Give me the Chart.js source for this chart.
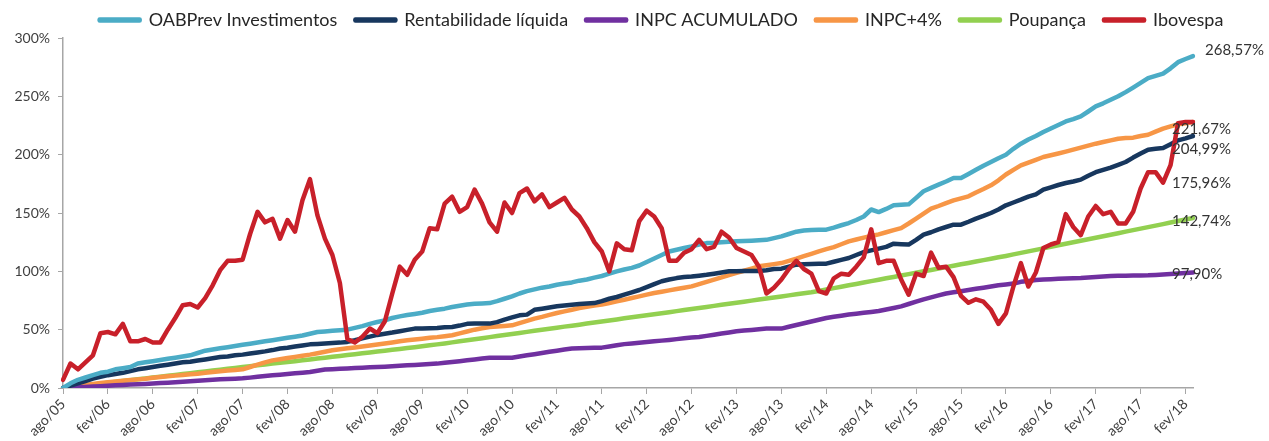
<!DOCTYPE html>
<html>
<head>
<meta charset="utf-8">
<script src="https://cdn.jsdelivr.net/npm/chart.js@4.4.1/dist/chart.umd.min.js"></script>
<style>
  html, body { margin: 0; padding: 0; background: #fff; }
  #wrap { width: 1269px; height: 441px; }
</style>
</head>
<body>
<div id="wrap"><canvas id="chart" width="1269" height="441"></canvas></div>
<script>
// meses de ago/05 a mar/18 (152 pontos)
const monthNames = ['jan', 'fev', 'mar', 'abr', 'mai', 'jun', 'jul', 'ago', 'set', 'out', 'nov', 'dez'];
const firstMonth = 7, firstYear = 5, nMonths = 152;

const seriesNames = ['OABPrev Investimentos', 'Rentabilidade líquida', 'INPC ACUMULADO', 'INPC+4%', 'Poupança', 'Ibovespa'];

// valores acumulados em %, uma linha = 12 meses (ago..jul)
const oabprev = [
  0, 4, 7, 9, 11, 13, 14, 16, 17, 18, 21, 22,
  23, 24, 25, 26, 27, 28, 30, 32, 33, 34, 35, 36,
  37, 38, 39, 40, 41, 42, 43, 44, 45, 46.5, 48, 48.5,
  49, 49.5, 50, 51.5, 53, 55, 56.6, 58, 60, 61.4, 62.5, 63.5,
  64.5, 66, 67, 68, 69.4, 70.5, 71.5, 72.3, 72.5, 72.8, 74.5, 76.5,
  78.6, 81, 83, 84.5, 86, 87, 88.5, 89.5, 90.5, 92, 93, 94.6,
  96, 98, 100, 101.6, 103, 105, 108, 111, 114, 117, 118.5, 120,
  121.4, 123, 124.2, 124.5, 125, 125.3, 125.7, 126, 126.3, 126.6, 127, 128.5,
  130, 132, 134, 135, 135.5, 135.6, 135.7, 137.5, 139.5, 141.4, 144, 147,
  153, 150.8, 153.5, 156.6, 157, 157.4, 163, 168.6, 171.5, 174.3, 177, 180,
  180, 183.5, 187, 190.5, 193.7, 197, 200, 205, 209.4, 213, 216, 219.4,
  222.5, 225.5, 228.5, 230.5, 232.8, 237, 241.4, 244, 247, 250, 253.6, 257.5,
  261.5, 265.6, 267.5, 269.4, 274, 279.3, 282, 284.5
];
const rentLiquida = [
  0, 2, 4, 6, 8, 9.5, 11, 12, 13, 14.5, 16, 17,
  18, 19, 20, 21, 22, 22.5, 23.5, 24.5, 25.5, 26.5, 27, 28,
  28.6, 29.5, 30.5, 31.4, 32.5, 33.8, 34.5, 35.5, 36.5, 37.4, 37.8, 38.2,
  38.6, 38.9, 39.5, 40.9, 42.5, 44, 45.5, 46.5, 47.5, 48.7, 49.8, 50.9,
  51, 51.2, 51.4, 52, 52.3, 53.5, 55, 55.2, 55.2, 55.2, 56.5, 58.6,
  60.5, 62.3, 62.9, 67, 68, 69, 70, 70.7, 71.3, 72, 72.5, 72.8,
  74.5, 76.5, 78, 80, 82, 84, 86.5, 89, 91.5, 93, 94.2, 95.1,
  95.5, 96.3, 97, 98, 99, 100, 100.1, 100.2, 100.3, 100.3, 101, 102,
  102.3, 104, 105.7, 106, 106.3, 106.6, 106.6, 108.2, 109.8, 111.4, 114, 116.5,
  118, 119.5, 121, 123.7, 123.3, 122.9, 127, 131.4, 133.5, 136, 138, 140,
  140, 142.5, 145.2, 147.5, 150, 153, 156.6, 159, 161.4, 164, 166, 170,
  172, 174, 175.7, 177, 178.6, 182, 185, 187, 188.9, 191.3, 193.7, 197.5,
  201, 204.3, 205, 205.7, 209, 212.3, 214, 216
];
const inpcAcum = [
  0, 0.3, 0.6, 0.9, 1.2, 1.6, 2, 2.3, 2.6, 2.9, 3.2, 3.5,
  3.8, 4.2, 4.6, 5, 5.4, 5.8, 6.3, 6.7, 7.1, 7.5, 7.8, 8,
  8.3, 8.9, 9.6, 10.3, 10.9, 11.4, 12, 12.6, 13.1, 13.7, 14.8, 15.8,
  16.1, 16.5, 16.8, 17.1, 17.4, 17.7, 18, 18.3, 18.6, 19, 19.4, 19.8,
  20.2, 20.5, 20.9, 21.6, 22.3, 23, 23.7, 24.5, 25.3, 26, 26, 26,
  26, 27, 28, 29, 30, 31, 32, 33, 33.8, 34, 34.2, 34.4,
  34.6, 35.6, 36.6, 37.6, 38.2, 38.8, 39.4, 40, 40.6, 41.2, 41.9, 42.6,
  43.2, 43.7, 44.7, 45.7, 46.7, 47.6, 48.6, 49.2, 49.8, 50.4, 50.9, 50.9,
  50.9, 52.5, 54, 55.5, 57, 58.5, 60, 61, 62, 63, 63.7, 64.5,
  65.2, 66, 67.3, 68.6, 70, 72, 74, 76, 77.7, 79.4, 81, 82,
  83, 84, 85, 86, 87, 88, 88.7, 89.5, 91, 91.8, 92.5, 93,
  93.3, 93.6, 93.9, 94.1, 94.3, 94.7, 95.1, 95.6, 96, 96.2, 96.3, 96.4,
  96.5, 96.6, 96.9, 97.3, 97.7, 98.1, 98.5, 98.9
];
const inpcMais4 = [
  0, 1, 1.8, 2.6, 3.4, 4.2, 5, 5.6, 6.2, 6.8, 7.4, 8,
  8.8, 9.4, 10, 10.6, 11.2, 11.8, 12.3, 13, 13.7, 14.4, 15, 15.5,
  16, 18, 20, 22, 23.7, 24.7, 25.7, 26.7, 27.6, 28.6, 29.8, 31,
  32.3, 33.2, 34, 34.8, 35.6, 36.4, 37.2, 38.1, 39, 40, 40.9, 41.6,
  42.3, 43, 43.6, 44.4, 45.2, 46.8, 48.4, 50, 51.2, 52.3, 52.8, 53.2,
  53.7, 55.6, 57.5, 59.5, 61, 62.7, 64.3, 65.7, 67.1, 68.6, 69.6, 70.6,
  71.5, 72.9, 74.3, 75.7, 77.1, 78.5, 80, 81.4, 82.5, 83.7, 84.9, 86,
  87.1, 89, 91, 92.9, 94.8, 96.7, 98.6, 100.5, 102.4, 104.3, 105.2, 106.2,
  107.1, 109, 110.9, 113, 115, 117.1, 119, 120.8, 123.2, 125.7, 127.3, 128.9,
  130.3, 131.7, 133.5, 135.3, 137.1, 141, 145.2, 149.5, 153.7, 156, 158.5, 160.8,
  162.5, 164.3, 167.5, 170.5, 173.7, 178, 183, 187, 190.8, 193.2, 195.6, 198,
  199.5, 201, 202.6, 204.3, 206, 207.7, 209.4, 210.8, 212.3, 213.7, 214.2, 214.6,
  216, 217.1, 219.7, 222.3, 224.2, 226, 227, 228
];
const poupanca = [
  0, 0.75, 1.5, 2.25, 3, 3.75, 4.5, 5.25, 6, 6.75, 7.5, 8.25,
  9, 9.75, 10.5, 11.25, 12, 12.75, 13.5, 14.25, 15, 15.75, 16.5, 17.25,
  18, 18.75, 19.5, 20.2, 20.9, 21.6, 22.3, 23, 23.8, 24.5, 25.3, 26,
  26.8, 27.5, 28.3, 29, 29.8, 30.5, 31.3, 32, 32.8, 33.5, 34.3, 35,
  35.8, 36.6, 37.4, 38.2, 39.1, 40, 40.9, 41.8, 42.7, 43.6, 44.5, 45.4,
  46.3, 47.2, 48.1, 49, 49.9, 50.8, 51.7, 52.6, 53.4, 54.3, 55.2, 56.1,
  57, 57.9, 58.8, 59.7, 60.6, 61.5, 62.3, 63.2, 64.1, 65, 65.9, 66.8,
  67.7, 68.6, 69.5, 70.4, 71.3, 72.2, 73.1, 74, 74.9, 75.8, 76.7, 77.6,
  78.5, 79.4, 80.3, 81.2, 82.1, 83.2, 84.4, 85.6, 86.8, 88, 89.2, 90.4,
  91.6, 92.8, 94, 95.2, 96.4, 97.6, 98.8, 100, 101.2, 102.4, 103.6, 104.8,
  106, 107.2, 108.4, 109.6, 110.8, 112, 113.2, 114.5, 115.8, 117.1, 118.4, 119.7,
  121, 122.3, 123.6, 124.9, 126.2, 127.5, 128.8, 130.1, 131.4, 132.7, 134, 135.3,
  136.6, 137.9, 139.2, 140.5, 141.8, 143.1, 144.4, 145.7
];
const ibovespa = [
  7, 21, 16, 22, 28, 47, 48, 46, 55, 40, 40, 42,
  39, 39, 50, 60, 71, 72, 69, 77, 88, 101, 109, 109,
  110, 132, 151, 142, 145, 128, 144, 134, 161, 179, 148, 128,
  114, 90, 42, 39, 44, 51, 47, 57, 81, 104, 97, 110,
  117, 137, 136, 158, 164, 151, 155, 170, 158, 142, 134, 159,
  150, 167, 171, 160, 166, 155, 159, 163, 153, 147, 137, 125,
  117, 100, 124, 119, 118, 143, 152, 147, 137, 109, 109, 116,
  119, 127, 119, 121, 134, 129, 120, 117, 114, 104, 81, 86,
  93, 102, 109, 102, 98, 83, 81, 94, 98, 97, 104, 112,
  136, 107, 109, 109, 93, 80, 98, 96, 116, 103, 104, 95,
  79, 73, 76, 74, 67, 55, 64, 87, 107, 87, 99, 120,
  123, 125, 149, 138, 131, 147, 156, 149, 151, 141, 141, 151,
  171, 185, 185, 176, 191, 227, 228, 228
];

// rótulos finais mostrados no gráfico
const endLabelValues = [268.57, 204.99, 97.90, 221.67, 142.74, 175.96];

const colors = ['#4bacc6', '#17375e', '#7030a0', '#f79646', '#92d050', '#c8202a'];

const labels = [];
for (let i = 0; i < nMonths; i++) {
  const m = (firstMonth + i) % 12;
  const y = firstYear + Math.floor((firstMonth + i) / 12);
  labels.push(monthNames[m] + '/' + String(y).padStart(2, '0'));
}

const allSeries = [oabprev, rentLiquida, inpcAcum, inpcMais4, poupanca, ibovespa];
const datasets = allSeries.map((data, i) => ({
  label: seriesNames[i],
  data: data,
  borderColor: colors[i],
  backgroundColor: colors[i],
  borderWidth: 4.5,
  borderCapStyle: 'round',
  borderJoinStyle: 'round',
  pointRadius: 0,
  tension: 0,
  order: i === 5 ? 0 : 1  // Ibovespa por cima
}));

const fmtPct = v => v.toFixed(2).replace('.', ',') + '%';

// rótulos de valor no fim das linhas
const endLabels = {
  id: 'endLabels',
  afterDatasetsDraw(chart) {
    const { ctx, scales: { x, y } } = chart;
    ctx.save();
    ctx.font = '15px Lato';
    ctx.fillStyle = '#333333';
    ctx.textBaseline = 'middle';
    ctx.textAlign = 'left';
    chart.data.datasets.forEach((ds, i) => {
      const last = ds.data.length - 1;
      let px = x.getPixelForValue(last) - 21;
      let py = y.getPixelForValue(endLabelValues[i]);
      if (i === 0) {
        px = x.getPixelForValue(last) + 12;
        py = y.getPixelForValue(ds.data[last]) - 6;
      }
      ctx.fillText(fmtPct(endLabelValues[i]), px, py);
    });
    ctx.restore();
  }
};

// a legenda do original fica centrada um pouco mais à direita
const legendShift = {
  id: 'legendShift',
  afterLayout(chart) {
    chart.legend.left += 65;
    chart.legend.right += 65;
  }
};

const axisGray = '#a6a6a6';
const tickColor = '#404040';

new Chart(document.getElementById('chart'), {
  type: 'line',
  data: { labels: labels, datasets: datasets },
  options: {
    responsive: false,
    animation: false,
    layout: { padding: { left: 0, right: 76, top: -7, bottom: 0 } },
    plugins: {
      tooltip: { enabled: false },
      legend: {
        position: 'top',
        maxHeight: 45,
        labels: {
          color: '#262626',
          font: { family: 'Lato', size: 18 },
          boxWidth: 40,
          boxHeight: 1,
          padding: 18,
          sort: (a, b) => a.datasetIndex - b.datasetIndex
        }
      }
    },
    scales: {
      x: {
        type: 'category',
        grid: { display: true, drawOnChartArea: false, color: axisGray, tickLength: 6 },
        border: { display: true, color: axisGray, width: 1.5 },
        ticks: {
          autoSkip: false,
          maxRotation: 45,
          minRotation: 45,
          color: tickColor,
          font: { family: 'Lato', size: 14 },
          padding: 2,
          callback: function (val, idx) {
            return idx % 6 === 0 ? labels[idx] : null;
          }
        },
        afterFit: s => { s.height = 53; }
      },
      y: {
        min: 0,
        max: 300,
        grid: { display: true, drawOnChartArea: false, color: axisGray, tickLength: 5 },
        border: { display: true, color: axisGray, width: 1.5 },
        ticks: {
          stepSize: 50,
          color: tickColor,
          font: { family: 'Lato', size: 14 },
          padding: 8,
          callback: v => v + '%'
        },
        afterFit: s => { s.width = 63; }
      }
    }
  },
  plugins: [endLabels, legendShift]
});
</script>
</body>
</html>
